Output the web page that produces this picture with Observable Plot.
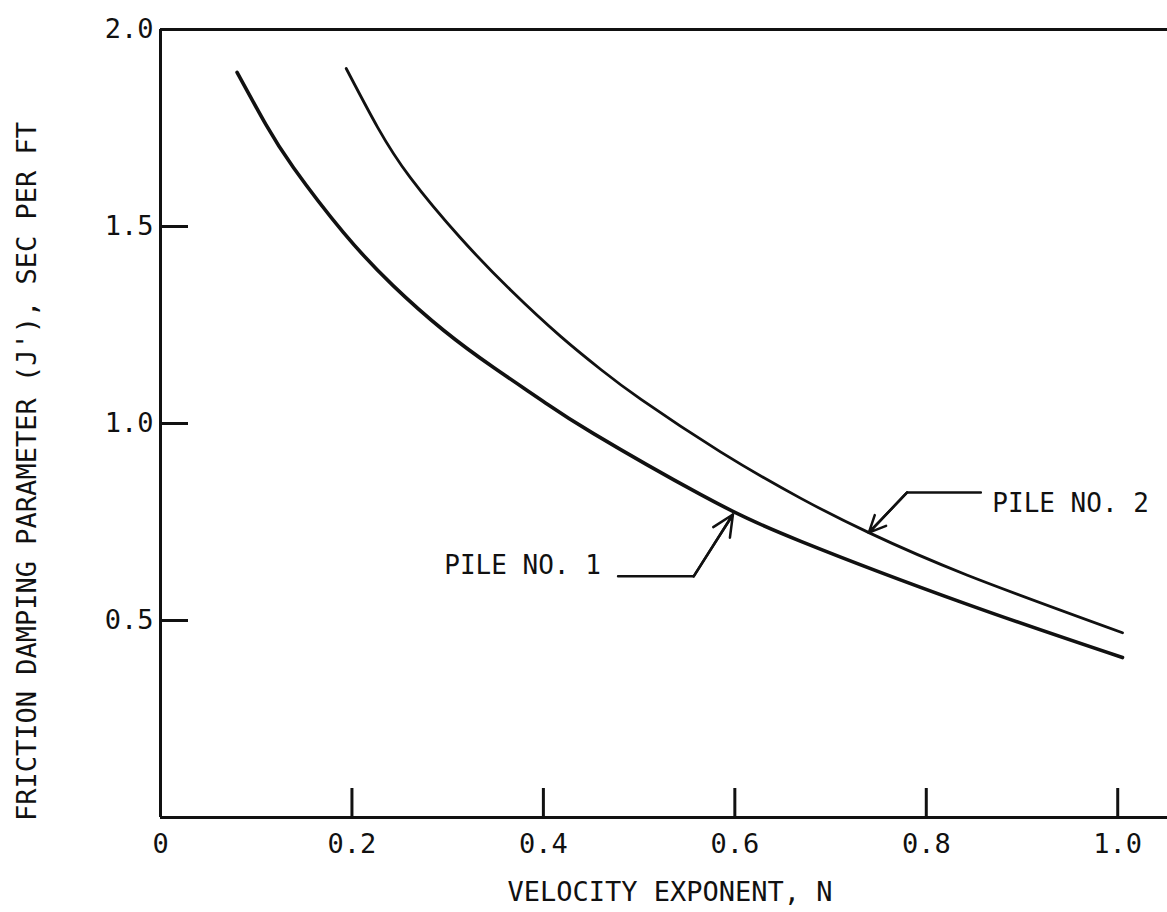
<!DOCTYPE html>
<html>
<head>
<meta charset="utf-8">
<script src="https://cdn.jsdelivr.net/npm/d3@7"></script>
<script src="https://cdn.jsdelivr.net/npm/@observablehq/plot@0.6"></script>
<style>
  html, body { margin: 0; padding: 0; background: #fff; }
  #chart svg { display: block; }
</style>
</head>
<body>
<div id="chart"></div>
<script>
// ---- data ----
const xTickValues = [0.2, 0.4, 0.6, 0.8, 1.0];
const xLabelValues = [0, 0.2, 0.4, 0.6, 0.8, 1.0];
const xLabels = ["0", "0.2", "0.4", "0.6", "0.8", "1.0"];
const yTickValues = [0.5, 1.0, 1.5];
const yLabelValues = [0.5, 1.0, 1.5, 2.0];
const yLabels = ["0.5", "1.0", "1.5", "2.0"];

const xTitle = "VELOCITY EXPONENT, N";
const yTitle = "FRICTION DAMPING PARAMETER (J'), SEC PER FT";

// Pile No. 1 (lower, heavier curve)
const pile1N = [0.080, 0.110, 0.139, 0.191, 0.243, 0.296, 0.348, 0.400, 0.452, 0.564, 0.669, 0.843, 1.005];
const pile1J = [1.891, 1.759, 1.649, 1.485, 1.350, 1.236, 1.142, 1.056, 0.975, 0.820, 0.701, 0.541, 0.406];
// Pile No. 2 (upper curve)
const pile2N = [0.194, 0.227, 0.261, 0.313, 0.366, 0.418, 0.460, 0.502, 0.585, 0.669, 0.740, 0.843, 1.005];
const pile2J = [1.901, 1.751, 1.624, 1.472, 1.338, 1.221, 1.137, 1.061, 0.928, 0.810, 0.723, 0.615, 0.469];

// Callouts
const callout1 = {text: "PILE NO. 1", n: 0.460, j: 0.640};
const callout2 = {text: "PILE NO. 2", n: 0.869, j: 0.797};
const leader1N = [0.478, 0.557, 0.598];
const leader1J = [0.612, 0.612, 0.769];
const leader2N = [0.857, 0.780, 0.740];
const leader2J = [0.825, 0.825, 0.723];

// ---- build tables ----
const pile1 = pile1N.map((n, i) => ({n, j: pile1J[i]}));
const pile2 = pile2N.map((n, i) => ({n, j: pile2J[i]}));
const leader1 = leader1N.map((n, i) => ({n, j: leader1J[i]}));
const leader2 = leader2N.map((n, i) => ({n, j: leader2J[i]}));
const arrows = [
  {n1: leader1N[1], j1: leader1J[1], n2: leader1N[2], j2: leader1J[2]},
  {n1: leader2N[1], j1: leader2J[1], n2: leader2N[2], j2: leader2J[2]}
];

const W = 1167, H = 912;
const mL = 160, mR = 0, mT = 29, mB = 95;
const plotW = W - mL - mR, plotH = H - mT - mB;
const FONT = "'DejaVu Sans Mono', 'Liberation Mono', monospace";
const INK = "#111";

const chart = Plot.plot({
  width: W,
  height: H,
  marginLeft: mL,
  marginRight: mR,
  marginTop: mT,
  marginBottom: mB,
  style: {fontFamily: FONT, fontSize: "27px", color: INK, background: "#fff", overflow: "visible"},
  x: {domain: [0, 1.052]},
  y: {domain: [0, 2.0]},
  marks: [
    // frame lines
    Plot.ruleY([0, 2.0], {stroke: INK, strokeWidth: 3}),
    Plot.ruleX([0], {stroke: INK, strokeWidth: 3}),
    // inward ticks
    Plot.tickX(xTickValues, {x: d => d, insetTop: plotH - 29, stroke: INK, strokeWidth: 3}),
    Plot.tickY(yTickValues, {y: d => d, insetRight: plotW - 28, stroke: INK, strokeWidth: 3}),
    // tick labels
    Plot.axisX({ticks: xLabelValues, tickSize: 0, tickPadding: 16, fontSize: 27,
      tickFormat: d => xLabels[xLabelValues.indexOf(d)], label: null}),
    Plot.axisY({ticks: yLabelValues, tickSize: 0, tickPadding: 7, fontSize: 27,
      tickFormat: d => yLabels[yLabelValues.indexOf(d)], label: null}),
    // axis titles
    Plot.text([xTitle], {frameAnchor: "bottom", textAnchor: "middle", lineAnchor: "middle", dx: 6, dy: 75, fontSize: 27, fill: INK}),
    Plot.text([yTitle], {frameAnchor: "left", textAnchor: "middle", lineAnchor: "middle", rotate: -90, dx: -133, dy: 48, fontSize: 27, fill: INK}),
    // curves
    Plot.line(pile1, {x: "n", y: "j", curve: "natural", stroke: INK, strokeWidth: 3.6, strokeLinecap: "round"}),
    Plot.line(pile2, {x: "n", y: "j", curve: "natural", stroke: INK, strokeWidth: 2.8, strokeLinecap: "round"}),
    // callouts
    Plot.line(leader1, {x: "n", y: "j", stroke: INK, strokeWidth: 2.5}),
    Plot.line(leader2, {x: "n", y: "j", stroke: INK, strokeWidth: 2.5}),
    Plot.arrow(arrows, {x1: "n1", y1: "j1", x2: "n2", y2: "j2", stroke: INK, strokeWidth: 2.5, headLength: 14, headAngle: 50}),
    Plot.text([callout1], {x: "n", y: "j", text: "text", textAnchor: "end", lineAnchor: "middle", fontSize: 26, fill: INK}),
    Plot.text([callout2], {x: "n", y: "j", text: "text", textAnchor: "start", lineAnchor: "middle", fontSize: 26, fill: INK})
  ]
});
document.getElementById("chart").append(chart);
</script>
</body>
</html>
